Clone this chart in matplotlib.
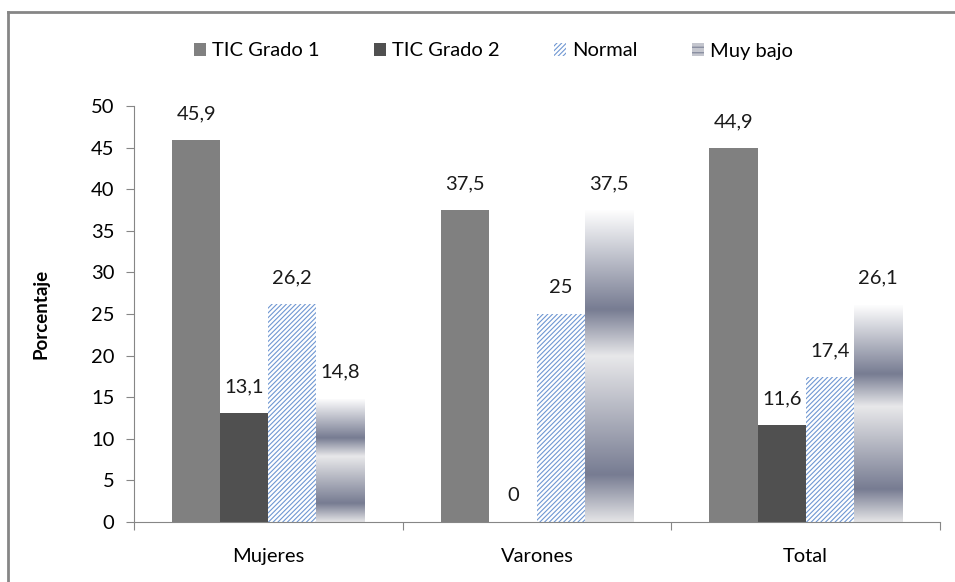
import numpy as np
import matplotlib.pyplot as plt
from matplotlib.patches import Patch
from matplotlib.colors import LinearSegmentedColormap
from matplotlib.lines import Line2D

plt.rcParams['font.family'] = ['Lato', 'DejaVu Sans']
plt.rcParams['hatch.linewidth'] = 0.8

categories = ["Mujeres", "Varones", "Total"]
series_names = ["TIC Grado 1", "TIC Grado 2", "Normal", "Muy bajo"]
tic_grado1 = [45.9, 37.5, 44.9]
tic_grado2 = [13.1, 0, 11.6]
normal = [26.2, 25, 17.4]
muy_bajo = [14.8, 37.5, 26.1]
labels = {
    "TIC Grado 1": ["45,9", "37,5", "44,9"],
    "TIC Grado 2": ["13,1", "0", "11,6"],
    "Normal": ["26,2", "25", "17,4"],
    "Muy bajo": ["14,8", "37,5", "26,1"],
}

fig = plt.figure(figsize=(9.55, 5.82), dpi=100)
ax = fig.add_axes([0.1403, 0.1031, 0.8440, 0.7148])

# outer chart frame (cropped at right/bottom)
fig.add_artist(Line2D([8 / 955, 8 / 955], [0, 1 - 12 / 582], transform=fig.transFigure,
                      color="#868686", lw=2))
fig.add_artist(Line2D([8 / 955, 1], [1 - 12 / 582, 1 - 12 / 582], transform=fig.transFigure,
                      color="#868686", lw=2))

x = np.arange(len(categories))
w = 0.179
offs = np.array([-1.5, -0.5, 0.5, 1.5]) * w

b1 = ax.bar(x + offs[0], tic_grado1, w, color="#808080", lw=0)
b2 = ax.bar(x + offs[1], tic_grado2, w, color="#505050", lw=0)
b3 = ax.bar(x + offs[2], normal, w, facecolor="white", edgecolor="#6f97d2",
            hatch="///////", lw=0)

# gradient bars for "Muy bajo"
dark = "#777c92"
grad = LinearSegmentedColormap.from_list("chrome", [
    (0.0, "#e4e4e6"), (0.15, dark), (0.53, "#e8e8ea"),
    (0.68, dark), (1.0, "#ffffff")])
gcol = np.linspace(0, 1, 256).reshape(-1, 1)
b4 = ax.bar(x + offs[3], muy_bajo, w, color="none", lw=0)
for rect in b4:
    x0, h = rect.get_x(), rect.get_height()
    im = ax.imshow(gcol, cmap=grad, origin="lower", aspect="auto",
                   extent=(x0, x0 + w, 0, h), zorder=1, interpolation="bilinear")
    im.set_clip_path(rect)

fs = 14.5
for bars, name in zip([b1, b2, b3, b4], series_names):
    for rect, lab in zip(bars, labels[name]):
        ax.annotate(lab, (rect.get_x() + w / 2, rect.get_height()),
                    xytext=(0, 13), textcoords="offset points",
                    ha="center", va="bottom", fontsize=fs, color="#1a1a1a")

ax.set_xlim(-0.5, 2.5)
ax.set_ylim(0, 50)
ax.set_yticks(range(0, 51, 5))
ax.set_xticks([-0.5, 0.5, 1.5, 2.5])
ax.set_xticklabels([])
ax.set_xticks(x, minor=True)
ax.set_xticklabels(categories, minor=True)
ax.tick_params(axis="x", which="minor", length=0, pad=19, labelsize=fs)
ax.tick_params(axis="x", which="major", length=6, color="#868686", direction="out")
ax.tick_params(axis="y", length=6, color="#868686", labelsize=fs, pad=8)
for s in ["top", "right"]:
    ax.spines[s].set_visible(False)
for s in ["left", "bottom"]:
    ax.spines[s].set_color("#868686")
ax.set_ylabel("Porcentaje", fontsize=13.5, fontweight="bold", labelpad=30)

handles = [
    Patch(facecolor="#808080"),
    Patch(facecolor="#505050"),
    Patch(facecolor="white", edgecolor="#6f97d2", hatch="///////", lw=0),
    Patch(facecolor="#c4c6ce", edgecolor="#7c8196", hatch="---", lw=0),
]
fig.legend(handles, series_names, loc="center", bbox_to_anchor=(0.517, 1 - 51 / 582),
           ncol=4, frameon=False, fontsize=fs, handlelength=0.6, handleheight=0.6,
           handletextpad=0.3, columnspacing=2.7)

fig.savefig("out.png", dpi=100)
